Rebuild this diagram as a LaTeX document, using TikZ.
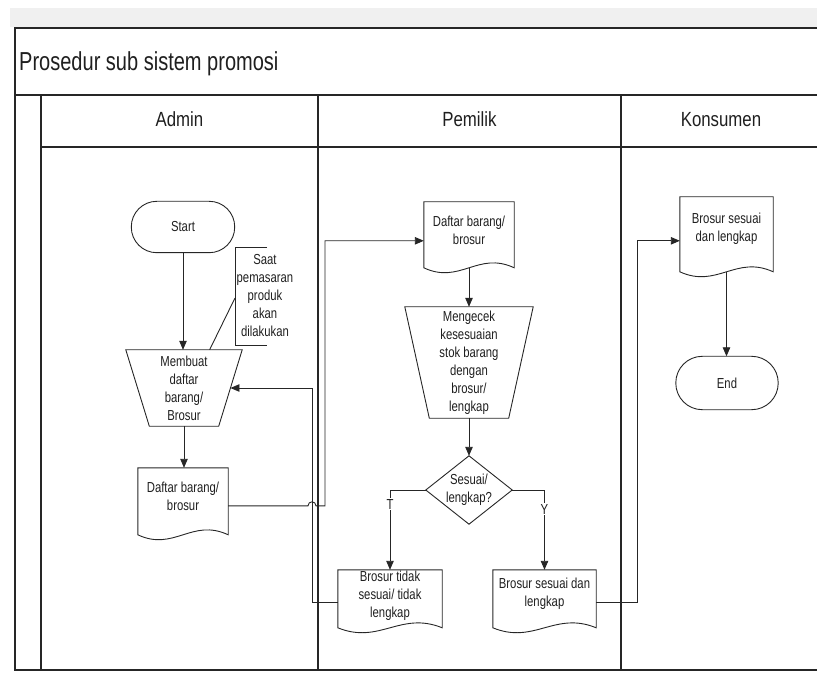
\documentclass[tikz,border=0pt]{standalone}
\usepackage{fontspec}
\setmainfont{Liberation Sans}[FakeStretch=0.78]
\newfontfamily\titlefont{Liberation Sans}[FakeStretch=0.77]
\newfontfamily\hdrfont{Liberation Sans}[FakeStretch=0.82]
\usetikzlibrary{arrows.meta,calc}
\newcommand{\docwave}[2]{%
  \draw[shp] (#1.north west) -- (#1.north east) -- ($(#1.north east)+(0,#2)$)
    .. controls ($(#1.north west)!0.6!(#1.north east)+(0,#2-17)$) and ($(#1.north west)!0.4!(#1.north east)+(0,#2+17)$)
    .. ($(#1.north west)+(0,#2)$) -- cycle;}
\newcommand{\trapz}[2]{%
  \draw[shp] (#1.north west) -- (#1.north east) -- ($(#1.south east)+(-#2,0)$) -- ($(#1.south west)+(#2,0)$) -- cycle;}
\tikzset{
  lane/.style={line width=1.2pt, draw=black!85},
  lanethick/.style={line width=1.6pt, draw=black!85},
  shp/.style={draw=black!85, line width=0.9pt},
  txt/.style={font=\fontsize{14.5}{18}\selectfont, align=center, text=black!88, inner sep=0pt},
  hdr/.style={font=\hdrfont\fontsize{20.5}{22}\selectfont, text=black!88, inner sep=0pt, anchor=base},
  conn/.style={draw=black!85, line width=0.9pt},
  arr/.style={conn, -{Triangle[length=9pt,width=7.5pt]}},
  lbl/.style={fill=white, font=\fontsize{14.5}{16}\selectfont, inner sep=1pt, text=black!88},
}
\begin{document}
\begin{tikzpicture}[x=1pt,y=-1pt]
\useasboundingbox (0,0) rectangle (817,676);
% frame
\fill[gray!12] (10,8) rectangle (817,27);
\draw[lanethick] (817,28) -- (15,28) -- (15,670) -- (817,670);
\draw[lanethick] (15,95) -- (817,95);
\draw[lane] (41,147) -- (817,147);
\draw[lane] (41,95) -- (41,670);
\draw[lane] (318,95) -- (318,670);
\draw[lane] (621,95) -- (621,670);
\node[font=\titlefont\fontsize{26}{28}\selectfont, text=black!88, inner sep=0pt, anchor=base west] (title) at (19,71) {Prosedur sub sistem promosi};
\node[hdr] (hadmin) at (179.5,127) {Admin};
\node[hdr] (hpemilik) at (469.5,127) {Pemilik};
\node[hdr] (hkons) at (721,127) {Konsumen};

% Admin lane
\node[txt, minimum width=103pt, minimum height=51pt] (start) at (183,227) {Start};
\draw[shp, rounded corners=25.5pt] (start.north west) rectangle (start.south east);

\node[txt, minimum width=116pt, minimum height=76pt] (tr1) at (184,388) {Membuat\\daftar\\barang/\\Brosur};
\trapz{tr1}{23.5}

\node[txt] (note) at (265,296) {Saat\\pemasaran\\produk\\akan\\dilakukan};
\coordinate (brk) at (235,298);
\draw[conn] (267,247) -- (235,247) -- (235,345) -- (267,345);
\draw[conn] ($(tr1.north west)!0.72!(tr1.north east)$) -- (brk);

\node[txt, minimum width=90pt, minimum height=56pt] (doc1) at (183,496) {Daftar barang/\\brosur};
\docwave{doc1}{67}

% Pemilik lane
\node[txt, minimum width=90pt, minimum height=57pt] (doc2) at (469,230.5) {Daftar barang/\\brosur};
\docwave{doc2}{66}

\node[txt, minimum width=128pt, minimum height=111pt] (tr2) at (469,362.5) {Mengecek\\kesesuaian\\stok barang\\dengan\\brosur/\\lengkap};
\trapz{tr2}{24.5}

\node[txt, minimum width=86pt, minimum height=68pt] (dia) at (469,490) {Sesuai/\\lengkap?};
\draw[shp] (dia.north) -- (dia.east) -- (dia.south) -- (dia.west) -- cycle;

\node[txt, minimum width=104pt, minimum height=52pt] (doc3) at (390,596) {Brosur tidak\\sesuai/ tidak\\lengkap};
\docwave{doc3}{58}

\node[txt, minimum width=103pt, minimum height=48pt] (doc4) at (544.5,594) {Brosur sesuai dan\\lengkap};
\docwave{doc4}{58}

% Konsumen lane
\node[txt, minimum width=93pt, minimum height=64pt] (doc5) at (726.5,229) {Brosur sesuai\\dan lengkap};
\docwave{doc5}{75}

\node[txt, minimum width=102pt, minimum height=53pt] (end) at (727,383) {End};
\draw[shp, rounded corners=26.5pt] (end.north west) rectangle (end.south east);

% connectors
\coordinate (busA) at (325,0);
\coordinate (busB) at (312,0);
\coordinate (busC) at (637,0);
\coordinate (d1out) at ($(doc1.north east)+(0,38)$);
\coordinate (d2in) at ($(doc2.north west)+(0,39)$);
\coordinate (d2b) at ($(doc2.north)+(0,66)$);
\coordinate (d3out) at ($(doc3.north west)+(0,33)$);
\coordinate (d4out) at ($(doc4.north east)+(0,33)$);
\coordinate (d5in) at ($(doc5.north west)+(0,44)$);
\coordinate (d5b) at ($(doc5.north)+(0,75)$);
\coordinate (tr1in) at ($(tr1.east)+(-11.75,0)$);

\draw[arr] (start.south) -- (start.south |- tr1.north);
\draw[arr] (tr1.south) -- (tr1.south |- doc1.north);
\draw[arr] (d1out) -- ($(busB |- d1out)+(-4,0)$) arc[start angle=180, end angle=0, radius=4pt] -- (busA |- d1out) -- (busA |- d2in) -- (d2in);
\draw[arr] (d2b) -- (d2b |- tr2.north);
\draw[arr] (tr2.south) -- (dia.north);
\draw[arr] (dia.west) -| node[lbl, pos=0.59] {T} (doc3.north);
\draw[arr] (dia.east) -| node[lbl, pos=0.62] {Y} (doc4.north);
\draw[arr] (d3out) -- (busB |- d3out) -- (busB |- tr1in) -- (tr1in);
\draw[arr] (d4out) -- (busC |- d4out) -- (busC |- d5in) -- (d5in);
\draw[arr] (d5b) -- (d5b |- end.north);
\end{tikzpicture}
\end{document}
